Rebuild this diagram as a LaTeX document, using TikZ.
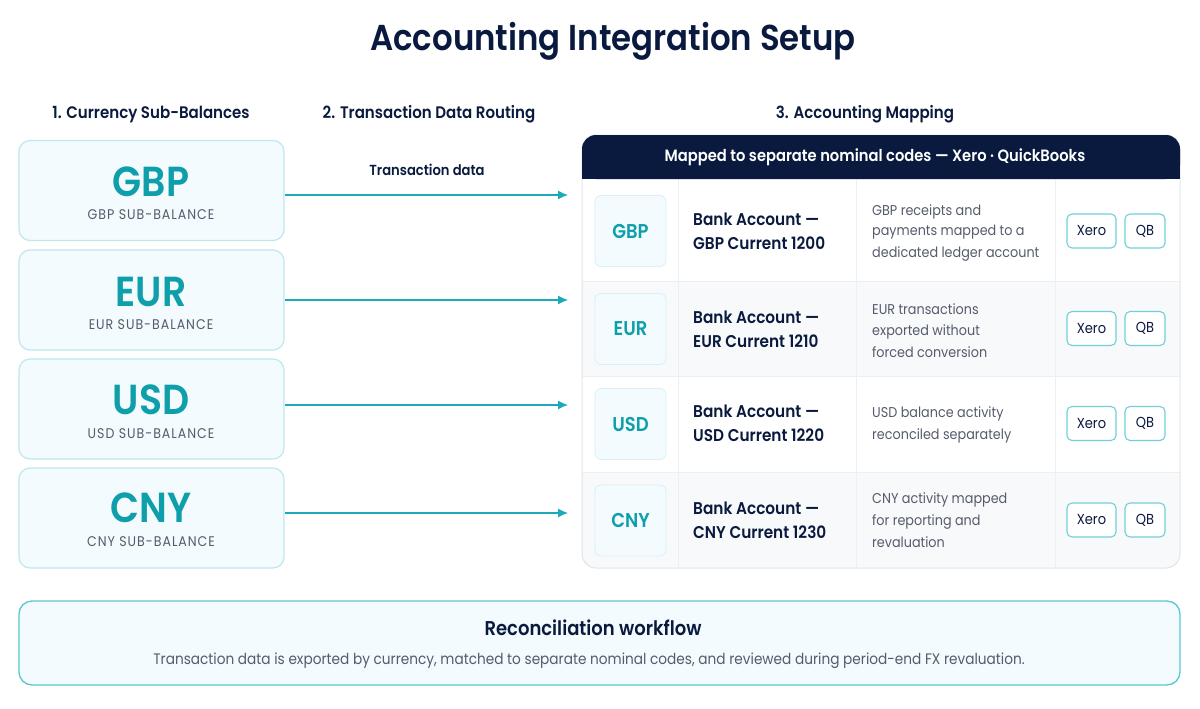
\documentclass[tikz,border=0pt]{standalone}
\usepackage{fontspec}
\setmainfont[FakeStretch=0.9,BoldFont={Poppins SemiBold}]{Poppins}
\newfontfamily\spacedfont[FakeStretch=0.9,LetterSpace=7]{Poppins}
\usepackage{xcolor}
\usetikzlibrary{positioning,calc,arrows.meta}
\definecolor{navy}{HTML}{0A1A3F}
\definecolor{teal}{HTML}{0E9FAB}
\definecolor{routeline}{HTML}{1AAAB8}
\definecolor{cardfill}{HTML}{F3FBFE}
\definecolor{cardline}{HTML}{BCE8EE}
\definecolor{pillline}{HTML}{6FD0D8}
\definecolor{rowgrey}{HTML}{F7F9FB}
\definecolor{gridline}{HTML}{ECEFF3}
\definecolor{greytext}{HTML}{555B6B}
\newcommand{\fs}[1]{\fontsize{#1}{#1}\selectfont}

\begin{document}
\begin{tikzpicture}[
    x=1pt, y=-1pt,
    card/.style={rectangle, draw=cardline, fill=cardfill, line width=1.2pt, rounded corners=11pt, minimum width=265pt, minimum height=100pt},
    code/.style={font=\fs{42}\bfseries, text=teal},
    sublabel/.style={font=\spacedfont\fs{14}, text=greytext},
    heading/.style={font=\fs{16.7}\bfseries, text=navy},
    badge/.style={rectangle, draw=cardline!60, fill=cardfill, line width=0.8pt, rounded corners=6pt, minimum width=71pt, minimum height=71pt, font=\fs{20}\bfseries, text=teal},
    account/.style={anchor=west, align=left, inner sep=0pt, font=\fs{17}\bfseries, text=navy},
    desc/.style={anchor=west, align=left, inner sep=0pt, font=\fs{14.2}, text=greytext},
    pill/.style={rectangle, draw=pillline, fill=white, line width=1.1pt, rounded corners=5pt, minimum height=34pt, font=\fs{14.5}, text=navy, inner sep=0pt},
    arrow/.style={-{Latex[length=10pt,width=9pt]}, draw=routeline, line width=1.2pt}
]
    \useasboundingbox (0,0) rectangle (1200,709);

    \node[font=\fs{36}\bfseries, text=navy] (title) at (613,41) {Accounting Integration Setup};
    \node[heading] (head1) at (151,114.5) {1. Currency Sub-Balances};
    \node[heading] (head2) at (429,114.5) {2. Transaction Data Routing};
    \node[heading] (head3) at (865,114.5) {3. Accounting Mapping};

    % currency cards
    \node[card] (gbp) at (151.5,190.5) {};
    \node[card] (eur) at (151.5,300) {};
    \node[card] (usd) at (151.5,409) {};
    \node[card] (cny) at (151.5,518) {};
    \node[code] (gbpcode) at (151,182) {GBP};
    \node[code] (eurcode) at (151,292) {EUR};
    \node[code] (usdcode) at (151,400) {USD};
    \node[code] (cnycode) at (151,508) {CNY};
    \node[sublabel] (gbpsub) at (151,215) {GBP SUB-BALANCE};
    \node[sublabel] (eursub) at (151,325) {EUR SUB-BALANCE};
    \node[sublabel] (usdsub) at (151,434) {USD SUB-BALANCE};
    \node[sublabel] (cnysub) at (151,542) {CNY SUB-BALANCE};

    % table body
    \fill[rowgrey] (582,281) rectangle (1180,376);
    \fill[rowgrey, rounded corners=14pt] (582,472) -- (582,568) -- (1180,568) -- (1180,472) -- cycle;
    \fill[rowgrey] (582,472) rectangle (1180,490);
    \draw[gridline, line width=0.9pt] (582,281) -- (1180,281);
    \draw[gridline, line width=0.9pt] (582,376) -- (1180,376);
    \draw[gridline, line width=0.9pt] (582,472) -- (1180,472);
    \draw[gridline, line width=0.9pt] (678,179) -- (678,568);
    \draw[gridline, line width=0.9pt] (856,179) -- (856,568);
    \draw[gridline, line width=0.9pt] (1055,179) -- (1055,568);
    \node[rectangle, draw=gridline!90!gray, line width=1pt, rounded corners=14pt, minimum width=598pt, minimum height=433pt] (table) at (881,351.5) {};
    \fill[navy, rounded corners=14pt] (582,179) -- (582,135) -- (1180,135) -- (1180,179) -- cycle;
    \fill[navy] (582,165) rectangle (1180,179);
    \node[font=\fs{16.35}\bfseries, text=white] (tablehead) at (875,157) {Mapped to separate nominal codes — Xero · QuickBooks};

    % rows
    \node[badge] (gbpbadge) at (630.5,231) {GBP};
    \node[badge] (eurbadge) at (630.5,329) {EUR};
    \node[badge] (usdbadge) at (630.5,424) {USD};
    \node[badge] (cnybadge) at (630.5,520.5) {CNY};

    \node[account] (gbpacc) at (693,231) {Bank Account —\\[7pt]GBP Current 1200};
    \node[account] (euracc) at (693,329) {Bank Account —\\[7pt]EUR Current 1210};
    \node[account] (usdacc) at (693,423) {Bank Account —\\[7pt]USD Current 1220};
    \node[account] (cnyacc) at (693,520) {Bank Account —\\[7pt]CNY Current 1230};

    \node[desc] (gbpdesc) at (872,233) {GBP receipts and\\[6.6pt]payments mapped to a\\[6.6pt]dedicated ledger account};
    \node[desc] (eurdesc) at (872,331) {EUR transactions\\[6.6pt]exported without\\[6.6pt]forced conversion};
    \node[desc] (usddesc) at (872,425) {USD balance activity\\[6.6pt]reconciled separately};
    \node[desc] (cnydesc) at (872,520) {CNY activity mapped\\[6.6pt]for reporting and\\[6.6pt]revaluation};

    \node[pill, minimum width=49pt] (gbpxero) at (1091.5,231) {Xero};
    \node[pill, minimum width=40pt] (gbpqb) at (1145,231) {QB};
    \node[pill, minimum width=49pt] (eurxero) at (1091.5,328.5) {Xero};
    \node[pill, minimum width=40pt] (eurqb) at (1145,328.5) {QB};
    \node[pill, minimum width=49pt] (usdxero) at (1091.5,423.5) {Xero};
    \node[pill, minimum width=40pt] (usdqb) at (1145,423.5) {QB};
    \node[pill, minimum width=49pt] (cnyxero) at (1091.5,520) {Xero};
    \node[pill, minimum width=40pt] (cnyqb) at (1145,520) {QB};

    % routing arrows
    \node[font=\fs{14.6}\bfseries, text=navy] (routelabel) at (427,169.5) {Transaction data};
    \coordinate (gbpend) at (568,195);
    \coordinate (eurend) at (568,300);
    \coordinate (usdend) at (568,405);
    \coordinate (cnyend) at (568,513);
    \draw[arrow] (gbpend -| gbp.east) -- (gbpend);
    \draw[arrow] (eurend -| eur.east) -- (eurend);
    \draw[arrow] (usdend -| usd.east) -- (usdend);
    \draw[arrow] (cnyend -| cny.east) -- (cnyend);

    % workflow box
    \node[rectangle, draw=pillline!80!teal, fill=cardfill, line width=1.3pt, rounded corners=13pt, minimum width=1161pt, minimum height=84pt] (workflow) at (599.5,643) {};
    \node[font=\fs{20}\bfseries, text=navy] (worktitle) at (593,628) {Reconciliation workflow};
    \node[font=\fs{15.2}, text=greytext] (worktext) at (589,660.5) {Transaction data is exported by currency, matched to separate nominal codes, and reviewed during period-end FX revaluation.};
\end{tikzpicture}
\end{document}
